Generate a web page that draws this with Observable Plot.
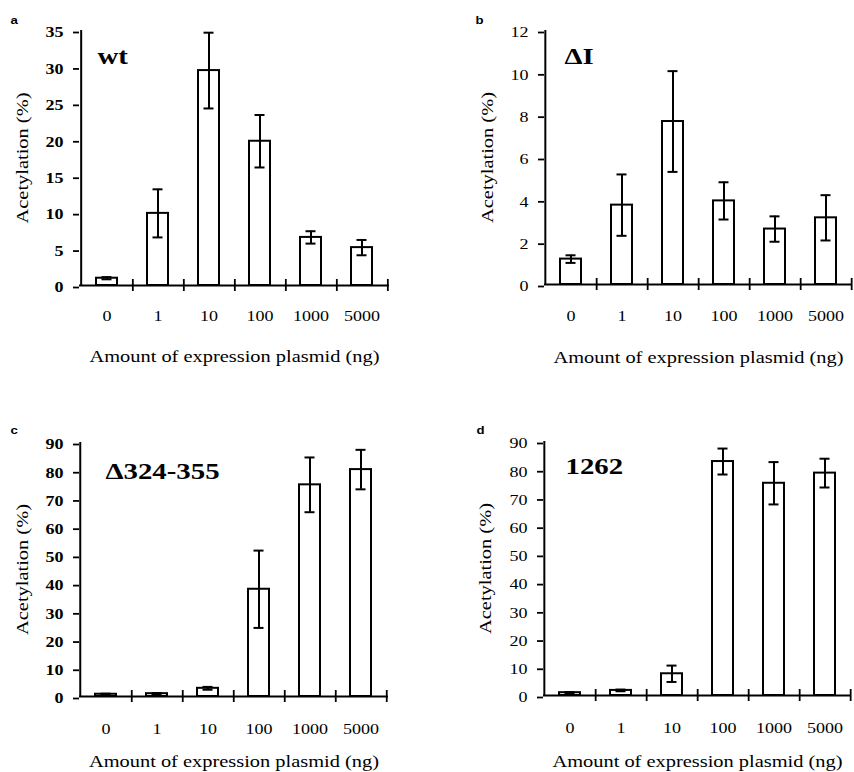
<!DOCTYPE html>
<html><head><meta charset="utf-8">
<script src="https://cdn.jsdelivr.net/npm/d3@7"></script>
<script src="https://cdn.jsdelivr.net/npm/@observablehq/plot@0.6"></script>
<style>
body{margin:0;background:#fff;}
#wrap{position:relative;width:854px;height:772px;overflow:hidden;background:#fff;}
.panel{position:absolute;}
</style></head><body><div id="wrap"></div>
<script>
// Categories (amount of expression plasmid, ng)
const doses = ["0", "1", "10", "100", "1000", "5000"];
// Panel a: wt
const wtMean = [1.0, 9.9, 29.5, 19.8, 6.6, 5.2];
const wtErr  = [0.15, 3.3, 5.2, 3.6, 0.85, 1.05];
const wtTicks = [0, 5, 10, 15, 20, 25, 30, 35];
// Panel b: ΔI
const dIMean = [1.2, 3.75, 7.7, 3.95, 2.62, 3.15];
const dIErr  = [0.18, 1.45, 2.38, 0.88, 0.6, 1.07];
const dITicks = [0, 2, 4, 6, 8, 10, 12];
// Panel c: Δ324-355
const d324Mean = [0.8, 1.0, 2.9, 38.0, 75.0, 80.4];
const d324Err  = [0.2, 0.25, 0.5, 13.7, 9.7, 7.0];
const d324Ticks = [0, 10, 20, 30, 40, 50, 60, 70, 80, 90];
// Panel d: 1262
const m1262Mean = [1.0, 1.8, 7.7, 82.9, 75.2, 78.8];
const m1262Err  = [0.2, 0.3, 2.9, 4.6, 7.5, 5.1];
const m1262Ticks = [0, 10, 20, 30, 40, 50, 60, 70, 80, 90];

const yTitle = "Acetylation (%)";
const xTitle = "Amount of expression plasmid (ng)";

const panels = [
  {letter: "a", heading: "wt", mean: wtMean, err: wtErr, ticks: wtTicks, ymax: 35, yBold: true,
   left: 0, top: 0, width: 427, height: 386, mL: 79, mR: 38, mT: 30, mB: 101,
   xPad: 25, xtDy: 71, ytDx: -57, hdx: 18, hdy: 33, ldx: -69, ldy: -7},
  {letter: "b", heading: "ΔI", mean: dIMean, err: dIErr, ticks: dITicks, ymax: 12, yBold: false,
   left: 427, top: 0, width: 427, height: 386, mL: 117, mR: 2, mT: 30, mB: 102,
   xPad: 26, xtDy: 73, ytDx: -57, hdx: 20, hdy: 33, ldx: -69, ldy: -7},
  {letter: "c", heading: "Δ324-355", mean: d324Mean, err: d324Err, ticks: d324Ticks, ymax: 90, yBold: true,
   left: 0, top: 386, width: 427, height: 386, mL: 79, mR: 39, mT: 56, mB: 76,
   xPad: 27, xtDy: 65, ytDx: -57, hdx: 26, hdy: 36, ldx: -69, ldy: -9},
  {letter: "d", heading: "1262", mean: m1262Mean, err: m1262Err, ticks: m1262Ticks, ymax: 90, yBold: false,
   left: 427, top: 386, width: 427, height: 386, mL: 116, mR: 3, mT: 55, mB: 77,
   xPad: 27, xtDy: 66, ytDx: -58, hdx: 22, hdy: 32, ldx: -67, ldy: -8}
];

const wrap = document.getElementById("wrap");
const SERIF = "Liberation Serif, Times New Roman, serif";
const STRETCH = 1.2;

function makePanel(cfg) {
  const data = doses.map((d, i) => ({dose: d, mean: cfg.mean[i], err: cfg.err[i]}));
  const half = (cfg.width - cfg.mL - cfg.mR) / doses.length / 2;
  const svg = Plot.plot({
    width: cfg.width, height: cfg.height,
    marginLeft: cfg.mL, marginRight: cfg.mR, marginTop: cfg.mT, marginBottom: cfg.mB,
    style: {fontFamily: SERIF, fontSize: "15px", color: "#000", background: "transparent", overflow: "visible"},
    x: {domain: doses, paddingInner: 0.58, paddingOuter: 0.29},
    y: {domain: [0, cfg.ymax]},
    marks: [
      Plot.axisY({ticks: cfg.ticks, tickSize: 6, tickPadding: 10, label: null, strokeWidth: 1.8,
                  fontWeight: cfg.yBold ? "bold" : "normal", dy: 2}),
      Plot.axisX({tickSize: 0, tickPadding: cfg.xPad, label: null}),
      Plot.barY(data, {x: "dose", y: "mean", fill: "white", stroke: "black", strokeWidth: 2}),
      Plot.ruleX(data, {x: "dose", y1: d => d.mean - d.err, y2: d => d.mean + d.err, stroke: "black", strokeWidth: 2}),
      Plot.tickY(data, {x: "dose", y: d => d.mean + d.err, stroke: "black", strokeWidth: 2, insetLeft: 5.5, insetRight: 5.5}),
      Plot.tickY(data, {x: "dose", y: d => d.mean - d.err, stroke: "black", strokeWidth: 2, insetLeft: 5.5, insetRight: 5.5}),
      Plot.ruleY([0], {stroke: "black", strokeWidth: 2}),
      Plot.ruleX([doses[0]], {x: d => d, dx: -half, stroke: "black", strokeWidth: 2}),
      Plot.ruleX(doses, {x: d => d, dx: half, y1: 0, y2: 0, insetTop: -6, insetBottom: -6, stroke: "black", strokeWidth: 1.8}),
      Plot.text([yTitle], {text: d => d, frameAnchor: "left", rotate: -90, dx: cfg.ytDx, fontSize: 17,
                           textAnchor: "middle", lineAnchor: "middle", fill: "black"}),
      Plot.text([xTitle], {text: d => d, frameAnchor: "bottom", dy: cfg.xtDy, fontSize: 17,
                           textAnchor: "middle", lineAnchor: "middle", fill: "black"}),
      Plot.text([cfg.heading], {text: d => d, frameAnchor: "top-left", dx: cfg.hdx, dy: cfg.hdy, fontSize: 24,
                                fontWeight: "bold", textAnchor: "start", lineAnchor: "bottom", fill: "black"}),
      Plot.text([cfg.letter], {text: d => d, frameAnchor: "top-left", dx: cfg.ldx, dy: cfg.ldy, fontSize: 11,
                               fontFamily: "Liberation Sans, Arial, sans-serif", fontWeight: "bold",
                               textAnchor: "start", lineAnchor: "bottom", fill: "black"})
    ]
  });
  svg.classList.add("panel");
  svg.style.left = cfg.left + "px";
  svg.style.top = cfg.top + "px";
  wrap.appendChild(svg);
  // the scanned figure's type is horizontally wide; stretch glyphs along the text direction
  svg.querySelectorAll("text").forEach(t => {
    const L = t.getComputedTextLength();
    if (L > 0) {
      t.setAttribute("textLength", (L * STRETCH).toFixed(2));
      t.setAttribute("lengthAdjust", "spacingAndGlyphs");
    }
  });
}
panels.forEach(makePanel);
</script>
</body></html>
